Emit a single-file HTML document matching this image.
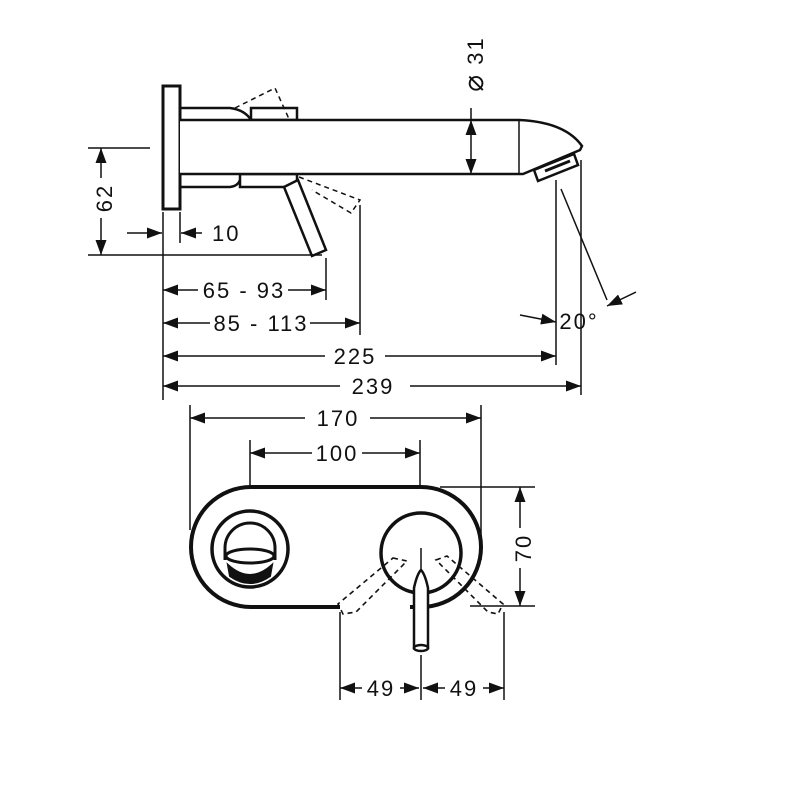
<!DOCTYPE html>
<html><head><meta charset="utf-8"><style>
html,body{margin:0;padding:0;background:#fff;}
svg{display:block;}
text{font-family:"Liberation Sans",sans-serif;font-size:22px;fill:#111;letter-spacing:2px;}
</style></head><body>
<svg width="800" height="800" viewBox="0 0 800 800" xmlns="http://www.w3.org/2000/svg">
<defs>
<marker id="a" markerUnits="userSpaceOnUse" markerWidth="16" markerHeight="12" refX="15" refY="5.5" orient="auto-start-reverse">
<path d="M0,0 L15,5.5 L0,11 z" fill="#111"/>
</marker>
</defs>
<g stroke="#111" fill="none" stroke-width="1.5">
<rect x="163" y="86" width="17" height="123" stroke-width="3" fill="#fff"/>
<path d="M180,108 L230,108 Q245,110 251,120" stroke-width="2.5"/>
<rect x="251" y="108" width="46" height="12" stroke-width="2.5"/>
<path d="M180,187 L230,187 Q238,186 240,180" stroke-width="2.5"/>
<rect x="240" y="174" width="57" height="13" stroke-width="2.5"/>
<path d="M180,120 L519,120 Q565,122 582,146 L580,150 L523,174 L180,174" stroke-width="2.5" fill="#fff"/>
<line x1="519" y1="120" x2="519" y2="174"/>
<polygon points="534,170 574,154 578,165 538,181" stroke-width="2.5" fill="#fff"/>
<line x1="545" y1="171" x2="570" y2="161" stroke-width="3"/>
<polygon points="284,187 298,180 326,250 312,256" stroke-width="2.5" fill="#fff"/>
<polyline points="235,108 275,88 289,119" stroke-dasharray="5,4"/>
<polyline points="299,177 360,200 351,213 312,190" stroke-dasharray="5,4"/>
<line x1="471" y1="108" x2="471" y2="120"/>
<line x1="471" y1="120" x2="471" y2="174" marker-start="url(#a)" marker-end="url(#a)"/>
<line x1="88" y1="148" x2="150" y2="148"/>
<line x1="88" y1="255" x2="322" y2="255"/>
<line x1="101" y1="148" x2="101" y2="255" marker-start="url(#a)" marker-end="url(#a)"/>
<line x1="127" y1="233" x2="162" y2="233" marker-end="url(#a)"/>
<line x1="202" y1="233" x2="181" y2="233" marker-end="url(#a)"/>
<line x1="163" y1="212" x2="163" y2="400"/>
<line x1="180" y1="212" x2="180" y2="243"/>
<line x1="326" y1="258" x2="326" y2="300"/>
<line x1="360" y1="205" x2="360" y2="335"/>
<line x1="556" y1="180" x2="556" y2="365"/>
<line x1="581" y1="160" x2="581" y2="395"/>
<line x1="561" y1="189" x2="607" y2="300"/>
<line x1="163" y1="290" x2="326" y2="290" marker-start="url(#a)" marker-end="url(#a)"/>
<line x1="163" y1="323" x2="360" y2="323" marker-start="url(#a)" marker-end="url(#a)"/>
<line x1="163" y1="356" x2="556" y2="356" marker-start="url(#a)" marker-end="url(#a)"/>
<line x1="163" y1="386" x2="581" y2="386" marker-start="url(#a)" marker-end="url(#a)"/>
<line x1="520" y1="315" x2="556" y2="322" marker-end="url(#a)"/>
<line x1="636" y1="292" x2="607" y2="306" marker-end="url(#a)"/>
<line x1="190" y1="405" x2="190" y2="530"/>
<line x1="481" y1="405" x2="481" y2="560"/>
<line x1="190" y1="418" x2="481" y2="418" marker-start="url(#a)" marker-end="url(#a)"/>
<line x1="250" y1="440" x2="250" y2="495"/>
<line x1="420" y1="440" x2="420" y2="495"/>
<line x1="250" y1="453" x2="420" y2="453" marker-start="url(#a)" marker-end="url(#a)"/>
<line x1="440" y1="487" x2="535" y2="487"/>
<line x1="470" y1="606" x2="535" y2="606"/>
<line x1="520" y1="487" x2="520" y2="606" marker-start="url(#a)" marker-end="url(#a)"/>
<rect x="191" y="487" width="290" height="120" rx="60" ry="60" stroke-width="4" fill="#fff"/>
<line x1="340" y1="607" x2="410" y2="607" stroke="#fff" stroke-width="6"/>
<circle cx="250" cy="549" r="38" stroke-width="3.5"/>
<path d="M225,560 L225,548 A25,25 0 0 1 275,548 L275,560" stroke-width="3"/>
<ellipse cx="250" cy="556" rx="24" ry="7" stroke-width="3"/>
<path d="M228,565 Q250,585 272,565 L270,576 Q250,590 230,576 Z" fill="#111" stroke-width="2"/>
<circle cx="421" cy="553" r="40" stroke-width="3.5" fill="#fff"/>
<polygon points="393,558 407,561 356,612 343,614 338,604" stroke-dasharray="5,4" stroke-width="1.6"/>
<polygon points="436,560 447,556 503,604 498,614 488,612" stroke-dasharray="5,4" stroke-width="1.6"/>
<line x1="421" y1="548" x2="421" y2="575"/>
<path d="M414,648 L414,588 Q417,574 421,570 Q425,574 428,588 L428,648 Z" stroke-width="2.5" fill="#fff"/>
<ellipse cx="421" cy="648" rx="7" ry="3" stroke-width="2.5" fill="#fff"/>
<line x1="340" y1="612" x2="340" y2="700"/>
<line x1="421" y1="655" x2="421" y2="700"/>
<line x1="504" y1="612" x2="504" y2="700"/>
<line x1="340" y1="688" x2="419" y2="688" marker-start="url(#a)" marker-end="url(#a)"/>
<line x1="423" y1="688" x2="504" y2="688" marker-start="url(#a)" marker-end="url(#a)"/>
</g>
<g fill="#fff">
<rect x="92" y="178" width="20" height="40"/>
<rect x="198" y="280" width="90" height="22"/>
<rect x="210" y="312" width="100" height="22"/>
<rect x="325" y="345" width="60" height="22"/>
<rect x="340" y="375" width="70" height="22"/>
<rect x="305" y="407" width="65" height="22"/>
<rect x="312" y="442" width="50" height="22"/>
<rect x="510" y="528" width="22" height="40"/>
<rect x="362" y="677" width="38" height="22"/>
<rect x="445" y="677" width="38" height="22"/>
</g>
<text transform="translate(112,198) rotate(-90)" text-anchor="middle">62</text>
<text x="212" y="241">10</text>
<text transform="translate(483,64) rotate(-90)" text-anchor="middle"><tspan font-size="28">⌀</tspan> 31</text>
<text x="244" y="298" text-anchor="middle">65 - 93</text>
<text x="261" y="331" text-anchor="middle">85 - 113</text>
<text x="355" y="364" text-anchor="middle">225</text>
<text x="373" y="394" text-anchor="middle">239</text>
<text x="579" y="329" text-anchor="middle">20°</text>
<text x="338" y="426" text-anchor="middle">170</text>
<text x="337" y="461" text-anchor="middle">100</text>
<text transform="translate(531,548) rotate(-90)" text-anchor="middle">70</text>
<text x="381" y="696" text-anchor="middle">49</text>
<text x="464" y="696" text-anchor="middle">49</text>
</svg>
</body></html>
